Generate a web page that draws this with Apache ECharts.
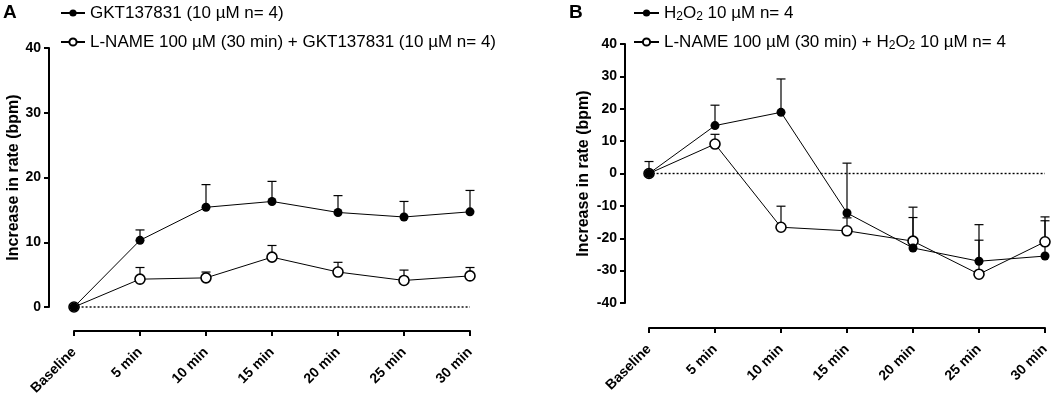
<!DOCTYPE html>
<html><head><meta charset="utf-8">
<script src="https://cdn.jsdelivr.net/npm/echarts@6/dist/echarts.min.js"></script>
<style>html,body{margin:0;padding:0;background:#fff}#c{width:1059px;height:398px}</style>
</head><body><div id="c"></div>
<script>
const categories = ['Baseline','5 min','10 min','15 min','20 min','25 min','30 min'];
const aGkt      = [0, 10.3, 15.4, 16.3, 14.6, 13.9, 14.7];
const aGktErr   = [0, 1.6, 3.5, 3.1, 2.6, 2.4, 3.3];
const aLname    = [0, 4.3, 4.5, 7.7, 5.4, 4.1, 4.8];
const aLnameErr = [0, 1.8, 0.9, 1.8, 1.5, 1.6, 1.3];
const bH2o2     = [0, 14.8, 18.9, -12.2, -23.0, -27.1, -25.5];
const bH2o2Err  = [3.7, 6.3, 10.3, 15.4, 9.4, 6.5, 10.9];
const bLname    = [0, 9.1, -16.6, -17.7, -20.9, -31.1, -21.1];
const bLnameErr = [0, 3.0, 6.5, 4.0, 10.5, 15.3, 7.7];
const aTicks = [0, 10, 20, 30, 40];
const bTicks = [-40, -30, -20, -10, 0, 10, 20, 30, 40];
const zeroLine = [[-0.37, 0], [6, 0]];

const FONT = 'Liberation Sans, Arial, sans-serif';
const chart = echarts.init(document.getElementById('c'), null, {renderer: 'canvas'});

function errSeries(vals, errs, gi) {
  return {
    type: 'custom', xAxisIndex: gi * 2, yAxisIndex: gi, z: 1, silent: true,
    data: vals.map((v, i) => [i, v, v + errs[i]]),
    renderItem: function (params, api) {
      const x = api.value(0);
      const p0 = api.coord([x, api.value(1)]);
      const p1 = api.coord([x, api.value(2)]);
      if (Math.abs(p0[1] - p1[1]) < 0.5) return null;
      const st = {stroke: '#000', lineWidth: 1.2};
      return {type: 'group', children: [
        {type: 'line', shape: {x1: p0[0], y1: p0[1], x2: p1[0], y2: p1[1]}, style: st},
        {type: 'line', shape: {x1: p1[0] - 4.5, y1: p1[1], x2: p1[0] + 4.5, y2: p1[1]}, style: st}
      ]};
    }
  };
}
function lineSeries(name, vals, gi, open) {
  return {
    name: name, type: 'line', xAxisIndex: gi * 2, yAxisIndex: gi, z: open ? 3 : 4,
    data: vals, symbol: 'circle', symbolSize: open ? 10 : 9,
    lineStyle: {color: '#000', width: 1},
    itemStyle: open ? {color: '#fff', borderColor: '#000', borderWidth: 1.6} : {color: '#000', borderColor: '#000', borderWidth: 0},
    emphasis: {disabled: true}, animation: false
  };
}
function dotSeries(gi) {
  return {
    type: 'line', xAxisIndex: gi * 2 + 1, yAxisIndex: gi, z: 0, clip: false, silent: true,
    data: zeroLine, symbol: 'none',
    lineStyle: {color: '#000', width: 1.4, type: [2, 2]}, animation: false
  };
}
function xCat(gi) {
  return {
    type: 'category', gridIndex: gi, data: categories, boundaryGap: false, position: 'bottom', offset: gi ? 25 : 24,
    axisLine: {show: true, onZero: false, lineStyle: {color: '#000', width: 2}},
    axisTick: {show: true, length: 5, lineStyle: {color: '#000', width: 2}},
    axisLabel: {rotate: 45, fontFamily: FONT, fontWeight: 'bold', fontSize: 14, color: '#000', margin: 19, interval: 0},
    splitLine: {show: false}
  };
}
function xVal(gi) {
  return {type: 'value', gridIndex: gi, min: 0, max: 6, show: false};
}
function yAx(gi, ticks) {
  return {
    type: 'value', gridIndex: gi, min: ticks[0], max: ticks[ticks.length - 1], interval: 10, offset: gi ? 24 : 25,
    name: 'Increase in rate (bpm)', nameLocation: 'middle', nameGap: gi ? 33 : 27, nameMoveOverlap: false,
    nameTextStyle: {fontFamily: FONT, fontWeight: 'bold', fontSize: 16, color: '#000'},
    axisLine: {show: true, onZero: false, lineStyle: {color: '#000', width: 2}},
    axisTick: {show: true, length: 5, lineStyle: {color: '#000', width: 2}},
    axisLabel: {fontFamily: FONT, fontWeight: 'bold', fontSize: 14, color: '#000', margin: 8,
      formatter: v => ticks.indexOf(v) >= 0 ? String(v) : ''},
    splitLine: {show: false}
  };
}
const legendText = {fontFamily: FONT, fontSize: 17, color: '#000', lineHeight: 20,
  rich: {sub: {fontFamily: FONT, fontSize: 12, lineHeight: 5, verticalAlign: 'bottom', color: '#000'}}};

const names = {
  a1: 'GKT137831 (10 µM n= 4)',
  a2: 'L-NAME 100 µM (30 min) + GKT137831 (10 µM n= 4)',
  b1: 'H2O2 10 µM n= 4',
  b2: 'L-NAME 100 µM (30 min) + H2O2 10 µM n= 4'
};

chart.setOption({
  animation: false,
  title: [
    {text: 'A', left: 3, top: 3, padding: 0, textStyle: {fontFamily: FONT, fontWeight: 'bold', fontSize: 19, color: '#000'}},
    {text: 'B', left: 569, top: 3, padding: 0, textStyle: {fontFamily: FONT, fontWeight: 'bold', fontSize: 19, color: '#000'}}
  ],
  legend: [
    {orient: 'vertical', left: 60, top: 3, padding: 0, itemWidth: 24, itemHeight: 9, itemGap: 9, data: [names.a1, names.a2], textStyle: legendText, selectedMode: false},
    {orient: 'vertical', left: 633, top: 3, padding: 0, itemWidth: 25, itemHeight: 9, itemGap: 9, data: [names.b1, names.b2], textStyle: legendText, selectedMode: false,
      formatter: n => n.replace(/H2O2/g, 'H{sub|2}O{sub|2}')}
  ],
  grid: [
    {left: 74, top: 48, width: 396, height: 259},
    {left: 649, top: 44, width: 396, height: 259}
  ],
  xAxis: [xCat(0), xVal(0), xCat(1), xVal(1)],
  yAxis: [yAx(0, aTicks), yAx(1, bTicks)],
  series: [
    dotSeries(0), dotSeries(1),
    errSeries(aGkt, aGktErr, 0), errSeries(aLname, aLnameErr, 0),
    errSeries(bH2o2, bH2o2Err, 1), errSeries(bLname, bLnameErr, 1),
    lineSeries(names.a2, aLname, 0, true), lineSeries(names.a1, aGkt, 0, false),
    lineSeries(names.b2, bLname, 1, true), lineSeries(names.b1, bH2o2, 1, false)
  ]
});
</script></body></html>
